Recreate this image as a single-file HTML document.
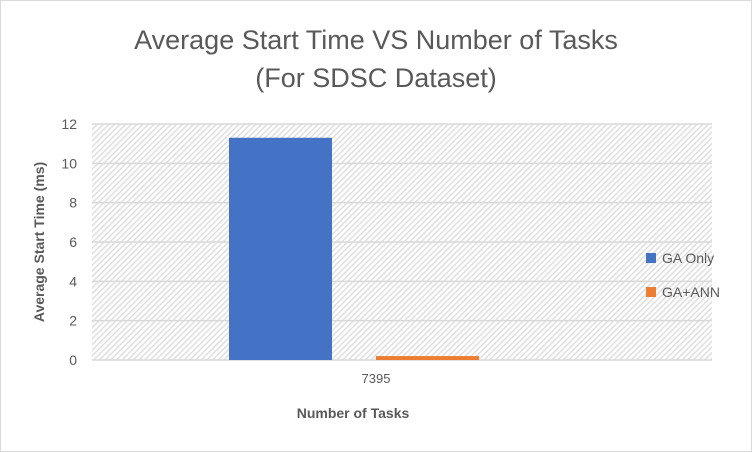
<!DOCTYPE html>
<html><head><meta charset="utf-8"><style>
body{margin:0;background:#fff;}
svg{display:block;font-family:"Liberation Sans",Calibri,sans-serif;}
</style></head><body>
<svg id="chart" width="752" height="452">
<defs>
<pattern id="hatch" width="4" height="4" patternUnits="userSpaceOnUse" patternTransform="rotate(45)">
<rect width="4" height="4" fill="#fff"/>
<rect width="1.6" height="4" fill="#e0e0e0"/>
</pattern>
</defs>
<rect x="0.5" y="0.5" width="751" height="451" fill="#fff" stroke="#d9d9d9"/>
<text x="376" y="49" text-anchor="middle" font-size="27" fill="#595959">Average Start Time VS Number of Tasks</text>
<text x="376" y="87" text-anchor="middle" font-size="27" fill="#595959">(For SDSC Dataset)</text>
<rect x="92" y="124" width="620" height="236" fill="url(#hatch)"/>
<g id="grid"></g><g id="bars"></g><g id="ticks"></g>
<text x="376" y="383" text-anchor="middle" font-size="13" fill="#595959">7395</text>
<text x="353" y="418" text-anchor="middle" font-size="14" font-weight="bold" fill="#595959">Number of Tasks</text>
<text transform="translate(44,242) rotate(-90)" text-anchor="middle" font-size="14" font-weight="bold" fill="#595959">Average Start Time (ms)</text>
<g>
<rect x="646" y="253" width="10" height="10" fill="#4472c4"/>
<text x="662" y="263" font-size="14" fill="#595959">GA Only</text>
<rect x="646" y="287" width="10" height="10" fill="#ed7d31"/>
<text x="662" y="297" font-size="14" fill="#595959">GA+ANN</text>
</g>
</svg>
<script>
const categories=["7395"];
const gaOnly=[11.3];
const gaAnn=[0.2];
const yTicks=[0,2,4,6,8,10,12];
const NS="http://www.w3.org/2000/svg";
const x0=92,x1=712,yTop=124,yBot=360,yMax=12;
const y=v=>yBot-(v/yMax)*(yBot-yTop);
const grid=document.getElementById('grid'),ticks=document.getElementById('ticks'),bars=document.getElementById('bars');
yTicks.forEach(t=>{
 const l=document.createElementNS(NS,'line');
 l.setAttribute('x1',x0);l.setAttribute('x2',x1);l.setAttribute('y1',y(t));l.setAttribute('y2',y(t));
 l.setAttribute('stroke','#d9d9d9');l.setAttribute('stroke-width','1.5');
 
 
 grid.appendChild(l);
 const tx=document.createElementNS(NS,'text');
 tx.setAttribute('x',77);tx.setAttribute('y',y(t)+5);tx.setAttribute('text-anchor','end');
 tx.setAttribute('font-size','14');tx.setAttribute('fill','#595959');tx.textContent=t;
 
 
 ticks.appendChild(tx);
});
const catW=(x1-x0)/categories.length;
categories.forEach((c,i)=>{
 const cx=x0+catW*(i+0.5);
 [[gaOnly,'#4472c4',-1,'bar-ga-only'],[gaAnn,'#ed7d31',0,'bar-ga-ann']].forEach(([s,col,off,nm])=>{
  const r=document.createElementNS(NS,'rect');
  const left=off<0?cx-173:cx-26;
  r.setAttribute('x',left);r.setAttribute('width',103);
  r.setAttribute('y',y(s[i]));r.setAttribute('height',yBot-y(s[i]));
  r.setAttribute('fill',col);
  
  
  bars.appendChild(r);
 });
});
</script>
</body></html>
